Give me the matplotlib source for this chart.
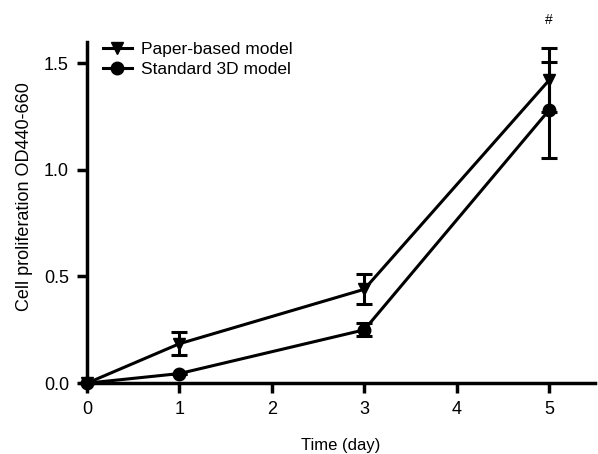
import matplotlib
matplotlib.use("Agg")
import matplotlib.pyplot as plt
from matplotlib.lines import Line2D

plt.rcParams["font.family"] = ["Liberation Sans", "DejaVu Sans"]

# data
days = [0, 1, 3, 5]
paper_mean = [0.0, 0.185, 0.44, 1.42]
paper_err = [0.0, 0.055, 0.07, 0.15]
std_mean = [0.0, 0.045, 0.25, 1.28]
std_err = [0.0, 0.0, 0.03, 0.225]

xticks = [0, 1, 2, 3, 4, 5]
yticks = [0.0, 0.5, 1.0, 1.5]

fig = plt.figure(figsize=(5.98, 4.54), dpi=100, facecolor="white")
ax = fig.add_axes([0.1455, 0.156, 0.85, 0.752])

lw = 2.2
ax.errorbar(days, paper_mean, yerr=paper_err, color="black", lw=lw,
            marker="v", ms=9, capsize=6, capthick=lw, elinewidth=lw,
            clip_on=False, zorder=3)
ax.errorbar(days, std_mean, yerr=std_err, color="black", lw=lw,
            marker="o", ms=9, capsize=6, capthick=lw, elinewidth=lw,
            clip_on=False, zorder=3)

ax.text(5, 1.70, "#", ha="center", va="center", fontsize=10)

ax.set_xlim(0, 5.5)
ax.set_ylim(0, 1.6)
ax.set_xticks(xticks)
ax.set_yticks(yticks)
ax.set_yticklabels([f"{v:.1f}" for v in yticks])

for side in ("top", "right"):
    ax.spines[side].set_visible(False)
for side in ("left", "bottom"):
    ax.spines[side].set_linewidth(2.5)
ax.tick_params(width=2.5, length=7, labelsize=13, pad=6)

ax.set_xlabel("Time (day)", fontsize=12, labelpad=14)
ax.set_ylabel("Cell proliferation OD440-660", fontsize=13, labelpad=8, y=0.548)

handles = [
    Line2D([], [], color="black", lw=lw, marker="v", ms=9),
    Line2D([], [], color="black", lw=lw, marker="o", ms=9),
]
ax.legend(handles, ["Paper-based model", "Standard 3D model"],
          loc="upper left", bbox_to_anchor=(0.0, 1.045), frameon=False,
          fontsize=12.5, handlelength=1.7, handletextpad=0.5, labelspacing=0.25)

fig.savefig("out.png", dpi=100)
